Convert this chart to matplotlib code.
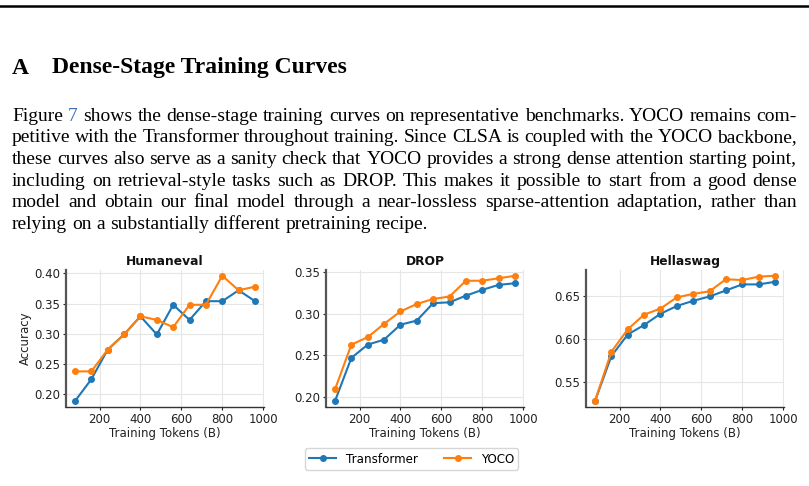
import matplotlib
matplotlib.use("Agg")
import matplotlib.pyplot as plt
from matplotlib.lines import Line2D

# ---------------- data ----------------
tokens = [80, 160, 240, 320, 400, 480, 560, 640, 720, 800, 880, 960]

humaneval_transformer = [0.189, 0.225, 0.274, 0.299, 0.329, 0.299, 0.348, 0.323, 0.354, 0.354, 0.372, 0.354]
humaneval_yoco = [0.238, 0.238, 0.274, 0.299, 0.329, 0.323, 0.311, 0.348, 0.348, 0.396, 0.372, 0.378]

drop_transformer = [0.195, 0.247, 0.263, 0.269, 0.287, 0.292, 0.313, 0.314, 0.322, 0.329, 0.335, 0.337]
drop_yoco = [0.209, 0.263, 0.272, 0.288, 0.303, 0.312, 0.318, 0.321, 0.340, 0.340, 0.343, 0.346]

hellaswag_transformer = [0.528, 0.580, 0.605, 0.616, 0.629, 0.638, 0.644, 0.649, 0.656, 0.663, 0.663, 0.666]
hellaswag_yoco = [0.528, 0.585, 0.611, 0.628, 0.635, 0.648, 0.652, 0.655, 0.669, 0.668, 0.672, 0.673]

panel_titles = ["Humaneval", "DROP", "Hellaswag"]
series_labels = ["Transformer", "YOCO"]

heading_num = "A"
heading_text = "Dense-Stage Training Curves"
paragraph_lines = [
    "Figure 7 shows the dense-stage training curves on representative benchmarks.  YOCO remains com-",
    "petitive with the Transformer throughout training. Since CLSA is coupled with the YOCO backbone,",
    "these curves also serve as a sanity check that YOCO provides a strong dense attention starting point,",
    "including on retrieval-style tasks such as DROP. This makes it possible to start from a good dense",
    "model and obtain our final model through a near-lossless sparse-attention adaptation, rather than",
    "relying on a substantially different pretraining recipe.",
]

# ---------------- figure ----------------
W, H = 809, 486
fig = plt.figure(figsize=(W / 100, H / 100), dpi=100)
fig.patch.set_facecolor("white")

def fx(px):
    return px / W

def fy(py):
    return 1 - py / H

# top rule
fig.add_artist(Line2D([0, 1], [fy(6), fy(6)], color="black", lw=1.8, transform=fig.transFigure))

# heading
serif = "Liberation Serif"
fig.text(fx(12), fy(73.5), heading_num, fontsize=17, fontweight="bold", family=serif, va="baseline")
fig.text(fx(52), fy(73.5), heading_text, fontsize=17, fontweight="bold", family=serif, va="baseline")

renderer = fig.canvas.get_renderer()
body_size = 14.0
x_left, x_right = 12, 797
baselines = [120.5, 142.2, 163.9, 185.6, 207.3, 229]
link_blue = "#3b6fb6"

for i, line in enumerate(paragraph_lines):
    words = line.split()
    arts = []
    for j, w in enumerate(words):
        color = link_blue if (i == 0 and j == 1) else "black"
        t = fig.text(0, fy(baselines[i]), w, fontsize=body_size, family=serif,
                     color=color, va="baseline", ha="left")
        arts.append(t)
    widths = [a.get_window_extent(renderer).width for a in arts]
    last = i == len(paragraph_lines) - 1
    if last:
        t1 = fig.text(0, 0, "a a", fontsize=body_size, family=serif)
        t2 = fig.text(0, 0, "aa", fontsize=body_size, family=serif)
        gap = t1.get_window_extent(renderer).width - t2.get_window_extent(renderer).width
        t1.remove()
        t2.remove()
    else:
        gap = (x_right - x_left - sum(widths)) / (len(words) - 1)
    x = x_left
    for a, w in zip(arts, widths):
        a.set_x(fx(x))
        x += w + gap

# ---------------- charts ----------------
blue = "#1f77b4"
orange = "#ff7f0e"
lefts = [66, 326, 586]
ax_w = 198
ax_top, ax_bot = 269.5, 407.3
data = [
    (humaneval_transformer, humaneval_yoco),
    (drop_transformer, drop_yoco),
    (hellaswag_transformer, hellaswag_yoco),
]
tick_size = 8.5
axes = []
for k in range(3):
    ax = fig.add_axes([fx(lefts[k]), fy(ax_bot), ax_w / W, (ax_bot - ax_top) / H])
    tr, yo = data[k]
    ax.plot(tokens, tr, "-o", color=blue, lw=1.5, ms=4, label=series_labels[0], zorder=3)
    ax.plot(tokens, yo, "-o", color=orange, lw=1.5, ms=4, label=series_labels[1], zorder=3)
    ax.set_title(panel_titles[k], fontsize=8.8, fontweight="bold", pad=3, color="#111111")
    ax.set_xlabel("Training Tokens (B)", fontsize=tick_size, labelpad=1, color="#222222")
    if k == 0:
        ax.set_ylabel("Accuracy", fontsize=tick_size, labelpad=2, color="#222222")
    ax.set_xticks([200, 400, 600, 800, 1000])
    ax.grid(True, color="#e6e6e6", lw=0.8)
    ax.set_axisbelow(True)
    for s in ["top", "right"]:
        ax.spines[s].set_visible(False)
    ax.spines["bottom"].set_color("#333333")
    ax.spines["bottom"].set_linewidth(1.0)
    ax.spines["left"].set_color("#555555")
    ax.spines["left"].set_linewidth(1.6)
    ax.tick_params(labelsize=tick_size, length=2.5, width=0.8, pad=1.5, colors="#222222")
    axes.append(ax)

axes[0].set_yticks([0.20, 0.25, 0.30, 0.35, 0.40])
axes[1].set_yticks([0.20, 0.25, 0.30, 0.35])
axes[2].set_yticks([0.55, 0.60, 0.65])
for ax in axes:
    ax.yaxis.set_major_formatter(matplotlib.ticker.FormatStrFormatter("%.2f"))

handles, labels = axes[0].get_legend_handles_labels()
fig.legend(handles, labels, loc="center", bbox_to_anchor=(fx(411.5), fy(459)), ncol=2,
           fontsize=8.6, frameon=True, edgecolor="#cccccc", fancybox=True,
           handlelength=2.3, columnspacing=2.2, borderpad=0.35, handletextpad=0.8)

fig.savefig("out.png", dpi=100, facecolor="white")
